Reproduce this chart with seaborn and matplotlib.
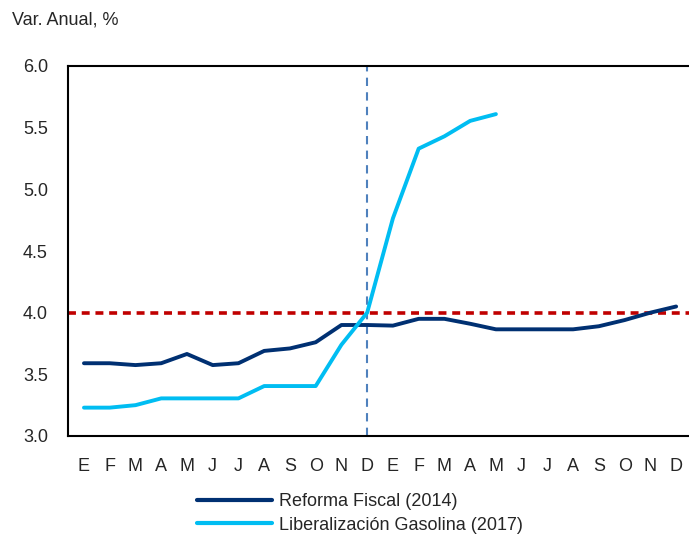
import matplotlib

matplotlib.use("Agg")
import matplotlib.pyplot as plt
import numpy as np
import pandas as pd
import seaborn as sns

months = ["E", "F", "M", "A", "M", "J", "J", "A", "S", "O", "N", "D",
          "E", "F", "M", "A", "M", "J", "J", "A", "S", "O", "N", "D"]

reforma_2014 = [3.59, 3.59, 3.575, 3.59, 3.665, 3.575, 3.59, 3.69, 3.71, 3.76, 3.90, 3.90,
                3.895, 3.95, 3.95, 3.91, 3.865, 3.865, 3.865, 3.865, 3.89, 3.94, 4.00, 4.05]
gasolina_2017 = [3.23, 3.23, 3.25, 3.305, 3.305, 3.305, 3.305, 3.405, 3.405, 3.405, 3.74, 4.00,
                 4.765, 5.33, 5.43, 5.555, 5.61]

meta = 4.0
corte = 11

names = ["Reforma Fiscal (2014)", "Liberalización Gasolina (2017)"]
colors = {"Reforma Fiscal (2014)": "#003072", "Liberalización Gasolina (2017)": "#00BDF2"}

df = pd.concat([
    pd.DataFrame({"mes": np.arange(len(reforma_2014)), "valor": reforma_2014, "serie": names[0]}),
    pd.DataFrame({"mes": np.arange(len(gasolina_2017)), "valor": gasolina_2017, "serie": names[1]}),
])

sns.set_style("white")
plt.rcParams["font.family"] = ["Liberation Sans", "DejaVu Sans"]

fs = 13
fig = plt.figure(figsize=(6.89, 5.37), dpi=100)
ax = fig.add_axes([68 / 689, 101 / 537, 1 - 68 / 689, 370 / 537])

ax.axhline(meta, color="#C00000", lw=2.6, ls=(0, (2.2, 1.6)), zorder=1)
ax.axvline(corte, color="#4F81BD", lw=1.5, ls=(0, (4, 3)), zorder=1)

sns.lineplot(data=df, x="mes", y="valor", hue="serie", palette=colors,
             linewidth=2.8, ax=ax, legend=False, zorder=3)

ax.set_xlim(-0.62, 23.35)
ax.set_ylim(3.0, 6.0)
ax.set_yticks(np.arange(3.0, 6.01, 0.5))
ax.set_yticklabels([f"{v:.1f}" for v in np.arange(3.0, 6.01, 0.5)], fontsize=fs)
ax.set_xticks(np.arange(len(months)))
ax.set_xticklabels(months, fontsize=fs)
ax.set_xticks(np.arange(len(months)) + 0.5, minor=True)
ax.tick_params(axis="x", which="major", length=0, pad=15.5)
ax.tick_params(axis="x", which="minor", direction="in", length=5, width=1.2, color="black")
ax.tick_params(axis="y", direction="out", length=6, width=1.2, color="black", pad=8.5)
ax.set_xlabel("")
ax.set_ylabel("")

for side in ["left", "bottom", "top"]:
    ax.spines[side].set_color("black")
    ax.spines[side].set_linewidth(1.5)
ax.spines["right"].set_visible(False)

fig.text(12 / 689, 1 - 20 / 537, "Var. Anual, %", fontsize=fs, va="center", ha="left")

handles = [plt.Line2D([], [], color=colors[n], lw=3) for n in names]
fig.legend(handles, names, loc="upper center", bbox_to_anchor=(0.5225, 0.099),
           frameon=False, fontsize=fs, handlelength=4.15, handletextpad=0.4,
           labelspacing=0.38, borderpad=0)

fig.savefig("out.png", dpi=100)
plt.close(fig)
